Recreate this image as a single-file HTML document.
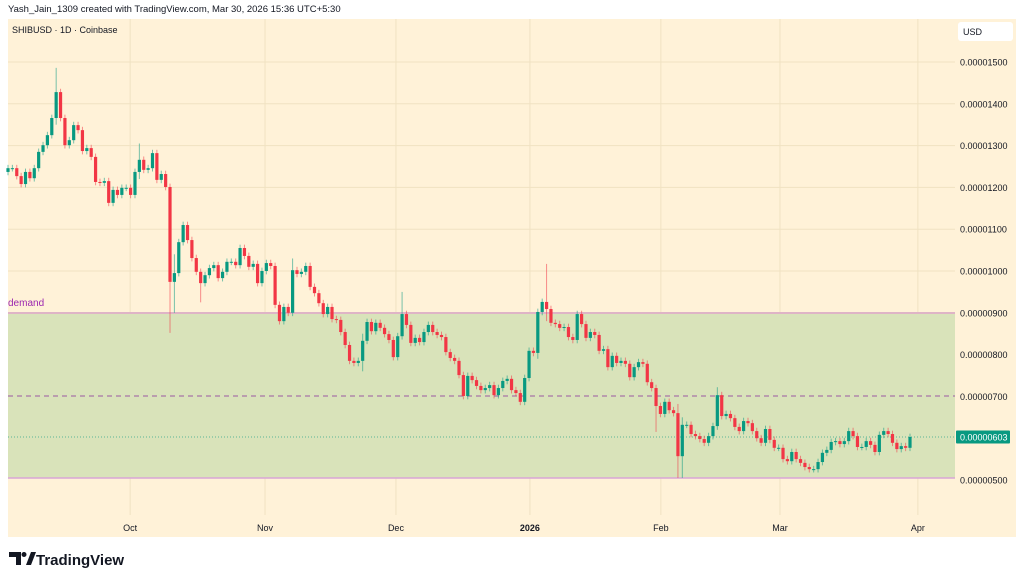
<!DOCTYPE html>
<html><head><meta charset="utf-8">
<style>
html,body{margin:0;padding:0;background:#fff;width:1024px;height:581px;overflow:hidden;font-family:"Liberation Sans",sans-serif;}
svg text{font-family:"Liberation Sans",sans-serif;}
</style></head>
<body>
<svg id="chart" width="1024" height="581" viewBox="0 0 1024 581" xmlns="http://www.w3.org/2000/svg">
  <rect x="0" y="0" width="1024" height="581" fill="#ffffff"/>
  <text x="8" y="12" font-size="9.5" fill="#131722">Yash_Jain_1309 created with TradingView.com, Mar 30, 2026 15:36 UTC+5:30</text>
  <rect x="8" y="19" width="1008" height="518" fill="#fff2d8"/>
  <g id="grid"></g>
  <rect x="8" y="313" width="947" height="165" fill="#d9e3ba"/>
  <line x1="8" y1="313" x2="955" y2="313" stroke="#dfb4c6" stroke-width="2"/>
  <line x1="8" y1="478" x2="955" y2="478" stroke="#d9a6d6" stroke-width="1.5"/>
  <text x="8" y="306" font-size="10" fill="#9c27b0">demand</text>
  <line x1="8" y1="396" x2="955" y2="396" stroke="#9b59a3" stroke-width="1" stroke-dasharray="5,4"/>
  <g id="candles"></g>
  <g id="yaxis"></g>
  <g id="xaxis"></g>
  <text x="12" y="33" font-size="9" fill="#131722">SHIBUSD · 1D · Coinbase</text>
  <rect x="958" y="22" width="55" height="19" rx="3" fill="#ffffff"/>
  <text x="963" y="35" font-size="9" fill="#131722">USD</text>
  <g>
    <path d="M9 552 h12 v13 h-5 v-8 h-7z" fill="#131722"/>
    <circle cx="24" cy="554.5" r="2.5" fill="#131722"/>
    <path d="M26 565 l5 -13 h5 l-5 13z" fill="#131722"/>
    <text x="36" y="565" font-size="15" font-weight="bold" fill="#131722">TradingView</text>
  </g>
</svg>
<script>
const closes=[12.46,12.46,12.27,12.08,12.37,12.22,12.46,12.85,13.01,13.25,13.66,14.28,13.66,13.01,13.13,13.49,13.37,12.87,12.94,12.73,12.13,12.11,12.15,11.63,11.94,11.82,11.99,11.99,11.82,12.37,12.66,12.42,12.46,12.82,12.18,12.32,12.01,9.74,9.95,10.69,11.10,10.74,10.31,9.98,9.71,9.90,10.07,10.14,9.83,9.98,10.22,10.22,10.14,10.55,10.36,10.10,10.17,9.71,10.00,10.19,10.12,9.19,8.80,9.14,9.00,10.02,9.93,9.98,10.12,9.62,9.47,9.23,8.97,9.14,8.85,8.83,8.54,8.23,7.85,7.80,7.85,8.33,8.78,8.56,8.76,8.64,8.49,8.35,7.94,8.44,8.97,8.71,8.28,8.40,8.30,8.54,8.71,8.54,8.47,8.42,8.06,7.92,7.85,7.51,7.01,7.49,7.39,7.25,7.15,7.20,7.27,7.03,7.20,7.37,7.42,7.15,7.08,6.87,7.44,
8.09,8.04,9.02,9.26,9.09,8.76,8.73,8.64,8.66,8.42,8.35,8.97,8.73,8.40,8.54,8.47,8.09,8.13,7.70,7.97,7.80,7.85,7.78,7.46,7.70,7.82,7.78,7.34,7.20,6.77,6.58,6.87,6.67,6.60,5.57,6.32,6.32,6.10,6.05,5.98,5.89,6.05,6.29,
7.03,6.53,6.58,6.48,6.27,6.17,6.41,6.36,6.17,6.00,5.89,6.22,5.96,5.77,5.77,5.50,5.45,5.67,5.50,5.41,5.31,5.26,5.26,5.43,5.65,5.72,5.91,5.93,5.86,5.93,6.17,6.05,5.79,5.79,5.93,5.84,5.67,6.08,6.17,6.10,5.89,5.74,5.81,5.77,6.03];
const firstOpen=12.37;
const wickIndex=[11,37,38,44,81,90,123,148,153,154,162,121,30,65];
const wickHigh=[14.86,12.05,10.4,10.0,8.5,9.50,10.17,7.1,6.82,6.5,7.22,8.7,13.05,10.3];
const wickLow=[13.5,8.52,9.0,9.25,7.6,8.8,8.8,6.15,5.05,5.05,6.2,7.9,12.2,9.7];
const priceTicks=[5,6,7,8,9,10,11,12,13,14,15];
const priceTickLabels=["0.00000500","0.00000600","0.00000700","0.00000800","0.00000900","0.00001000","0.00001100","0.00001200","0.00001300","0.00001400","0.00001500"];
const monthLabels=["Oct","Nov","Dec","2026","Feb","Mar","Apr"];
const monthIndex=[27.9,58.7,88.6,119.2,149.1,176.3,207.8];
const lastPrice=6.03;

const NS="http://www.w3.org/2000/svg";
function yScale(p){return 480-(p-5)*41.8;}
function xScale(i){return 8+i*(902/(closes.length-1));}
function mk(tag,attrs,parent){const e=document.createElementNS(NS,tag);for(const k in attrs)e.setAttribute(k,attrs[k]);parent.appendChild(e);return e;}

const grid=document.getElementById('grid');
const yaxis=document.getElementById('yaxis');
priceTicks.forEach((p,k)=>{
  const y=yScale(p);
  if(p!==5){const gl=mk('line',{x1:8,y1:y,x2:955,y2:y,stroke:'#f0e2c2','stroke-width':1},grid);
  
  }
  const t=mk('text',{x:960,y:y+3.5,'font-size':9,fill:'#131722'},yaxis);
  t.textContent=priceTickLabels[k];
  
  
});
const xaxis=document.getElementById('xaxis');
monthLabels.forEach((m,k)=>{
  const x=xScale(monthIndex[k]);
  const gl=mk('line',{x1:x,y1:19,x2:x,y2:515,stroke:'#f0e2c2','stroke-width':1},grid);
  
  
  const t=mk('text',{x:x,y:531,'font-size':9,fill:'#131722','text-anchor':'middle','font-weight':m==='2026'?'bold':'normal'},xaxis);
  t.textContent=m;
  
  
});

const cg=document.getElementById('candles');
const ly=yScale(lastPrice);
const pl=mk('line',{x1:8,y1:ly,x2:955,y2:ly,stroke:'#089981','stroke-width':1,'stroke-dasharray':'1,2',opacity:0.6},cg);


closes.forEach((c,i)=>{
  const o=i===0?firstOpen:closes[i-1];
  let hi=Math.max(o,c)+0.08, lo=Math.min(o,c)-0.08;
  const wi=wickIndex.indexOf(i);
  if(wi>=0){hi=Math.max(hi,wickHigh[wi]);lo=Math.min(lo,wickLow[wi]);}
  const up=c>=o, col=up?'#089981':'#f23645';
  const x=xScale(i);
  const g=mk('g',{},cg);
  
  
  mk('line',{x1:x,y1:yScale(hi),x2:x,y2:yScale(lo),stroke:col,'stroke-width':1,opacity:0.55},g);
  const yt=yScale(Math.max(o,c)), yb=yScale(Math.min(o,c));
  mk('rect',{x:x-1.6,y:yt,width:3.2,height:Math.max(1,yb-yt),fill:col},g);
});
const lb=mk('rect',{x:956,y:ly-6.5,width:54,height:13,rx:1,fill:'#089981'},yaxis);


const lt=mk('text',{x:960,y:ly+3.5,'font-size':9,fill:'#ffffff'},yaxis);
lt.textContent='0.00000603';


</script>
</body></html>
